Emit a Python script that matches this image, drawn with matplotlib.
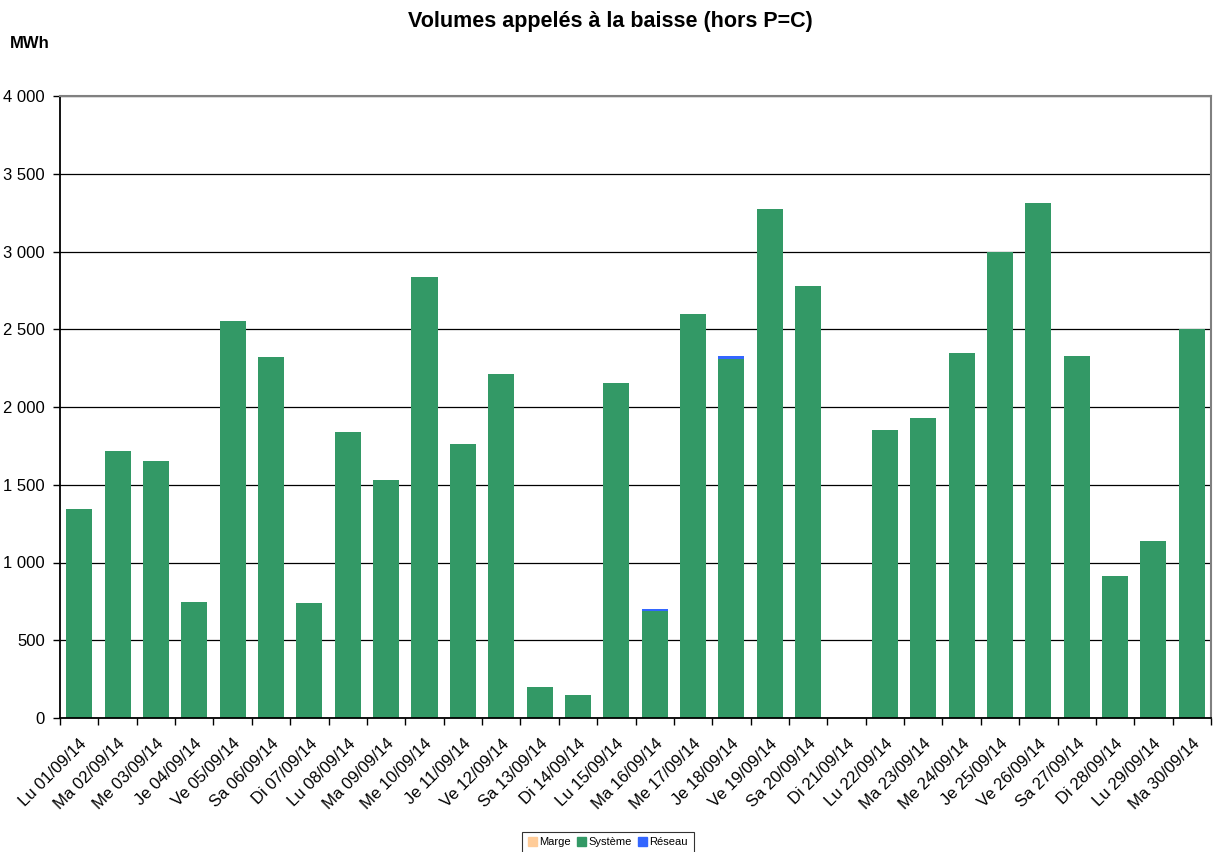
import matplotlib
matplotlib.use('Agg')
import matplotlib.pyplot as plt
import matplotlib.patches as mpatches
import numpy as np

plt.rcParams['font.family'] = ['Liberation Sans', 'DejaVu Sans']

days = ['Lu 01/09/14', 'Ma 02/09/14', 'Me 03/09/14', 'Je 04/09/14', 'Ve 05/09/14',
        'Sa 06/09/14', 'Di 07/09/14', 'Lu 08/09/14', 'Ma 09/09/14', 'Me 10/09/14',
        'Je 11/09/14', 'Ve 12/09/14', 'Sa 13/09/14', 'Di 14/09/14', 'Lu 15/09/14',
        'Ma 16/09/14', 'Me 17/09/14', 'Je 18/09/14', 'Ve 19/09/14', 'Sa 20/09/14',
        'Di 21/09/14', 'Lu 22/09/14', 'Ma 23/09/14', 'Me 24/09/14', 'Je 25/09/14',
        'Ve 26/09/14', 'Sa 27/09/14', 'Di 28/09/14', 'Lu 29/09/14', 'Ma 30/09/14']

marge = [0] * 30
systeme = [1345, 1715, 1655, 745, 2555, 2320, 740, 1840, 1530, 2835,
           1765, 2215, 200, 145, 2155, 688, 2600, 2310, 3275, 2780,
           0, 1850, 1930, 2350, 2995, 3310, 2330, 915, 1140, 2500]
reseau = [0] * 15 + [15, 0, 15] + [0] * 12

c_marge = '#FFCC99'
c_sys = '#339966'
c_res = '#3366FF'

fig = plt.figure(figsize=(12.14, 8.52), dpi=100)
ax = fig.add_axes([60 / 1214, 1 - 718 / 852, 1151 / 1214, 622 / 852])

x = np.arange(len(days))
w = 0.68
m = np.array(marge)
s = np.array(systeme)
r = np.array(reseau)
ax.bar(x, m, w, color=c_marge)
ax.bar(x, s, w, bottom=m, color=c_sys)
ax.bar(x, r, w, bottom=m + s, color=c_res)

ax.set_xlim(-0.5, len(days) - 0.5)
ax.set_ylim(0, 4000)
yt = np.arange(0, 4001, 500)
ax.set_yticks(yt)
ax.set_yticklabels([f'{v:,}'.replace(',', ' ') for v in yt], fontsize=12)
ax.yaxis.grid(True, color='black', linewidth=0.9)
ax.set_axisbelow(True)

ax.set_xticks(x)
ax.set_xticklabels(days, rotation=45, ha='right', rotation_mode='anchor', fontsize=12)
ax.tick_params(axis='x', which='major', length=0, pad=13)
ax.set_xticks(np.arange(-0.5, len(days)), minor=True)
ax.tick_params(axis='x', which='minor', length=5, width=1, color='black')
ax.tick_params(axis='y', length=5, width=1, color='black', pad=6)

ax.spines['left'].set_color('black')
ax.spines['left'].set_linewidth(1.3)
ax.spines['bottom'].set_color('black')
ax.spines['bottom'].set_linewidth(1.3)
ax.spines['top'].set_color('#808080')
ax.spines['right'].set_color('#808080')
ax.spines['top'].set_linewidth(1.5)
ax.spines['right'].set_linewidth(1.5)

fig.text(0.503, 1 - 21 / 852, 'Volumes appelés à la baisse (hors P=C)', ha='center', va='center',
         fontsize=15.5, fontweight='bold')
fig.text(10 / 1214, 1 - 43 / 852, 'MWh', ha='left', va='center', fontsize=12, fontweight='bold')

handles = [mpatches.Patch(color=c_marge, label='Marge'),
           mpatches.Patch(color=c_sys, label='Système'),
           mpatches.Patch(color=c_res, label='Réseau')]
leg = fig.legend(handles=handles, loc='upper center', bbox_to_anchor=(608 / 1214, 1 - 826 / 852),
                 ncol=3, fontsize=8, frameon=True, fancybox=False, handlelength=0.8,
                 handleheight=0.8, handletextpad=0.2, columnspacing=0.6, borderpad=0.5)
leg.get_frame().set_edgecolor('black')
leg.get_frame().set_linewidth(0.8)

fig.savefig('out.png', dpi=100)
